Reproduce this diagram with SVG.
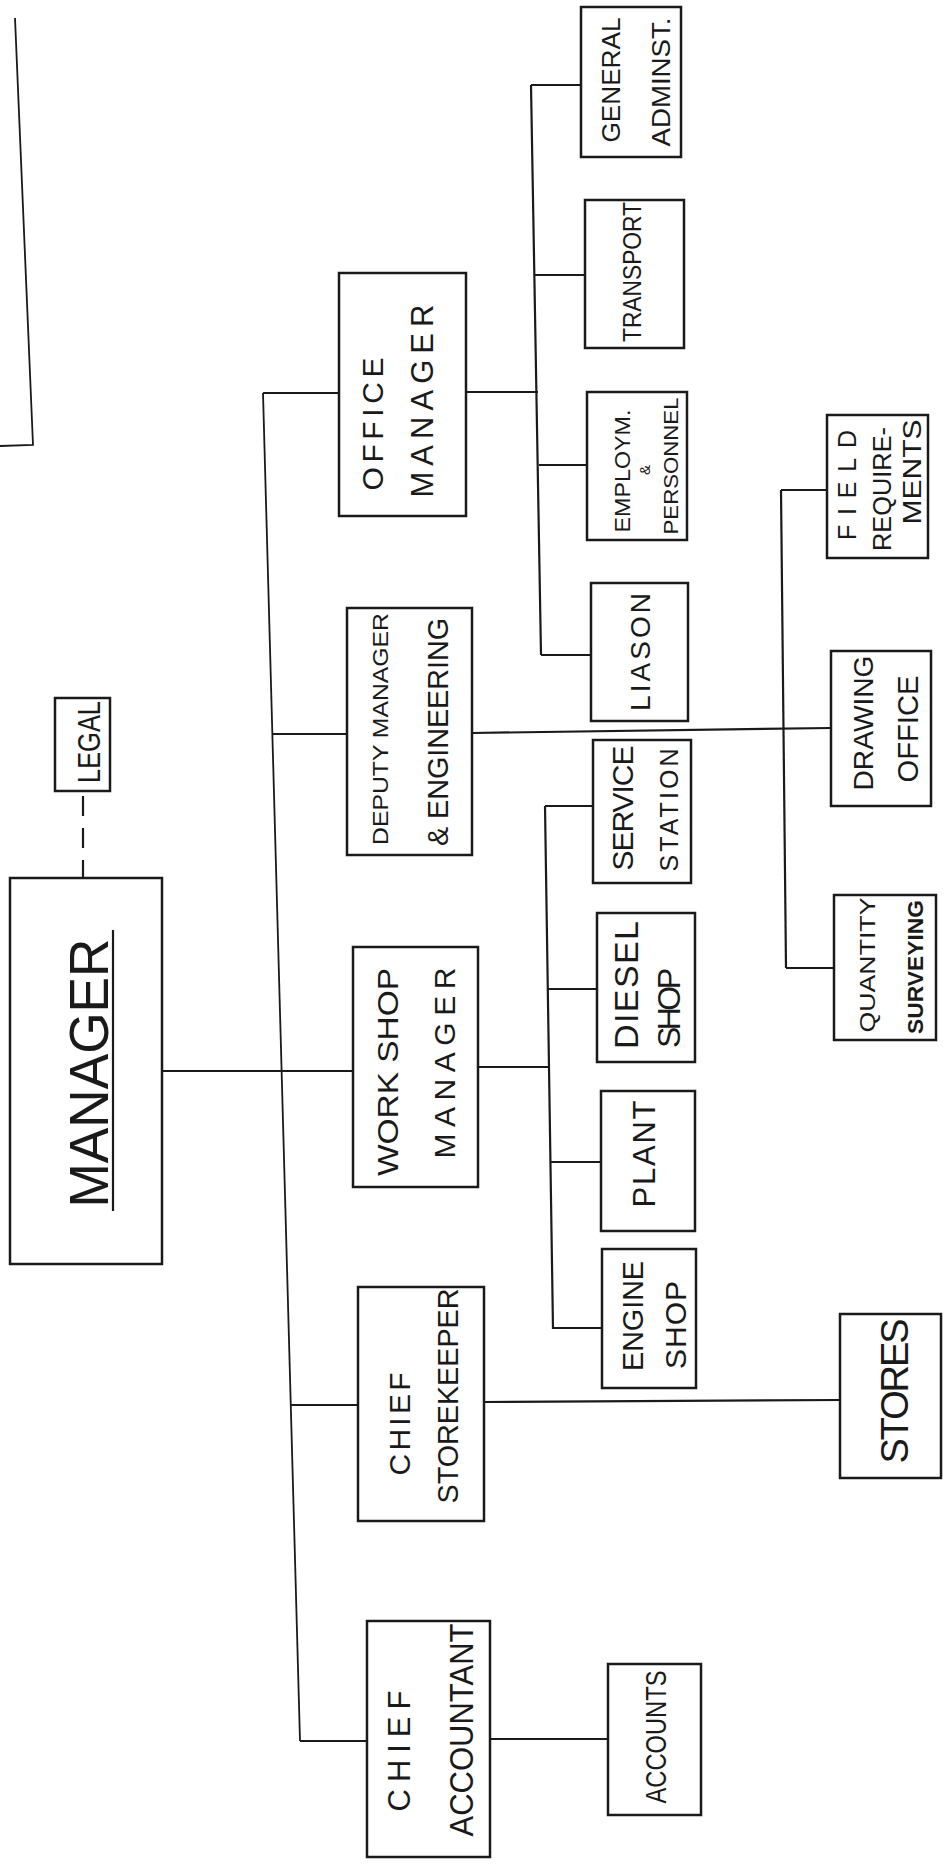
<svg xmlns="http://www.w3.org/2000/svg" width="946" height="1872" viewBox="0 0 946 1872">
<style>
.bg{fill:#ffffff}
.box{fill:#ffffff;stroke:#1a1a1a;stroke-width:2.5}
.ln{fill:none;stroke:#1a1a1a;stroke-width:2.2}
.thin{fill:none;stroke:#1a1a1a;stroke-width:1.8}
.dash{fill:none;stroke:#1a1a1a;stroke-width:2.2;stroke-dasharray:20 12}
text{font-family:"Liberation Sans","DejaVu Sans",Arial,sans-serif;fill:#1a1a1a;text-anchor:middle}
</style>
<rect class="bg" x="0" y="0" width="946" height="1872"/>
<path class="thin" d="M15,18 L33,445 L0,446"/>
<g id="connectors">
<path class="thin" d="M263,393 L300,1741"/>
<path class="ln" d="M263,393 L339,393"/>
<path class="ln" d="M272,734 L347,734"/>
<path class="ln" d="M162,1071 L353,1071"/>
<path class="ln" d="M290,1405 L358,1405"/>
<path class="ln" d="M300,1741 L367,1741"/>
<path class="dash" d="M83,796 L83,878"/>
<path class="ln" d="M466,392 L538,392"/>
<path class="ln" d="M531,85 L541,655"/>
<path class="ln" d="M531,85 L581,85"/>
<path class="ln" d="M534,275 L585,275"/>
<path class="ln" d="M539,465 L587,465"/>
<path class="ln" d="M541,655 L591,655"/>
<path class="ln" d="M472,733 L831,728"/>
<path class="ln" d="M781,490 L786,968"/>
<path class="ln" d="M781,490 L827,490"/>
<path class="ln" d="M786,968 L834,968"/>
<path class="ln" d="M478,1067 L548,1067"/>
<path class="ln" d="M545,806 L553,1329"/>
<path class="ln" d="M545,806 L593,806"/>
<path class="ln" d="M548,989 L597,989"/>
<path class="ln" d="M550,1162 L601,1162"/>
<path class="ln" d="M553,1328 L602,1328"/>
<path class="ln" d="M484,1402 L840,1400"/>
<path class="ln" d="M490,1739 L608,1739"/>
</g>
<g id="manager">
<rect class="box" x="10" y="878" width="152" height="386"/>
<text transform="translate(108,1073) rotate(-90)" font-size="56" textLength="269" lengthAdjust="spacingAndGlyphs">MANAGER</text>
<path class="ln" d="M113,1211 L113,930"/>
</g>
<g id="legal">
<rect class="box" x="55" y="698" width="55" height="93"/>
<text transform="translate(100,742) rotate(-90)" font-size="31" textLength="82" lengthAdjust="spacingAndGlyphs">LEGAL</text>
</g>
<g id="office-manager">
<rect class="box" x="339" y="273" width="127" height="243"/>
<text transform="translate(383,424) rotate(-90)" font-size="30" textLength="133" lengthAdjust="spacing">OFFICE</text>
<text transform="translate(433,401) rotate(-90)" font-size="31" textLength="193" lengthAdjust="spacing">MANAGER</text>
</g>
<g id="deputy-manager">
<rect class="box" x="347" y="608" width="125" height="247"/>
<text transform="translate(388,729) rotate(-90)" font-size="22" textLength="232" lengthAdjust="spacingAndGlyphs">DEPUTY MANAGER</text>
<text transform="translate(448,732) rotate(-90)" font-size="29" textLength="228" lengthAdjust="spacingAndGlyphs">&amp; ENGINEERING</text>
</g>
<g id="workshop-manager">
<rect class="box" x="353" y="947" width="125" height="240"/>
<text transform="translate(398,1072) rotate(-90)" font-size="29" textLength="208" lengthAdjust="spacingAndGlyphs">WORK SHOP</text>
<text transform="translate(455,1063) rotate(-90)" font-size="30" textLength="191" lengthAdjust="spacing">MANAGER</text>
</g>
<g id="chief-storekeeper">
<rect class="box" x="358" y="1287" width="126" height="234"/>
<text transform="translate(410,1424) rotate(-90)" font-size="30" textLength="103" lengthAdjust="spacing">CHIEF</text>
<text transform="translate(458,1396) rotate(-90)" font-size="29" textLength="215" lengthAdjust="spacingAndGlyphs">STOREKEEPER</text>
</g>
<g id="chief-accountant">
<rect class="box" x="367" y="1621" width="123" height="236"/>
<text transform="translate(410,1751) rotate(-90)" font-size="31" textLength="121" lengthAdjust="spacing">CHIEF</text>
<text transform="translate(473,1730) rotate(-90)" font-size="33" textLength="213" lengthAdjust="spacingAndGlyphs">ACCOUNTANT</text>
</g>
<g id="general-admin">
<rect class="box" x="581" y="7" width="100" height="150"/>
<text transform="translate(620,80) rotate(-90)" font-size="25" textLength="125" lengthAdjust="spacingAndGlyphs">GENERAL</text>
<text transform="translate(670,82) rotate(-90)" font-size="25" textLength="129" lengthAdjust="spacingAndGlyphs">ADMINST.</text>
</g>
<g id="transport">
<rect class="box" x="585" y="200" width="99" height="148"/>
<text transform="translate(641,272) rotate(-90)" font-size="25" textLength="140" lengthAdjust="spacingAndGlyphs">TRANSPORT</text>
</g>
<g id="employment">
<rect class="box" x="587" y="392" width="100" height="148"/>
<text transform="translate(630,471) rotate(-90)" font-size="22" textLength="123" lengthAdjust="spacingAndGlyphs">EMPLOYM.</text>
<text transform="translate(650,470) rotate(-90)" font-size="15">&amp;</text>
<text transform="translate(678,466) rotate(-90)" font-size="20" textLength="137" lengthAdjust="spacingAndGlyphs">PERSONNEL</text>
</g>
<g id="liason">
<rect class="box" x="591" y="583" width="97" height="138"/>
<text transform="translate(650,652) rotate(-90)" font-size="28" textLength="118" lengthAdjust="spacing">LIASON</text>
</g>
<g id="service-station">
<rect class="box" x="593" y="740" width="98" height="143"/>
<text transform="translate(633,808) rotate(-90)" font-size="30" textLength="125" lengthAdjust="spacing">SERVICE</text>
<text transform="translate(678,810) rotate(-90)" font-size="25" textLength="123" lengthAdjust="spacing">STATION</text>
</g>
<g id="diesel-shop">
<rect class="box" x="597" y="913" width="98" height="149"/>
<text transform="translate(638,985) rotate(-90)" font-size="34" textLength="128" lengthAdjust="spacing">DIESEL</text>
<text transform="translate(680,1008) rotate(-90)" font-size="32" textLength="80" lengthAdjust="spacing">SHOP</text>
</g>
<g id="plant">
<rect class="box" x="601" y="1091" width="94" height="140"/>
<text transform="translate(655,1154) rotate(-90)" font-size="31" textLength="107" lengthAdjust="spacing">PLANT</text>
</g>
<g id="engine-shop">
<rect class="box" x="602" y="1249" width="94" height="139"/>
<text transform="translate(643,1316) rotate(-90)" font-size="30" textLength="110" lengthAdjust="spacingAndGlyphs">ENGINE</text>
<text transform="translate(686,1325) rotate(-90)" font-size="30" textLength="88" lengthAdjust="spacing">SHOP</text>
</g>
<g id="field-requirements">
<rect class="box" x="827" y="415" width="101" height="143"/>
<text transform="translate(856,485) rotate(-90)" font-size="25" textLength="110" lengthAdjust="spacing">FIELD</text>
<text transform="translate(891,489) rotate(-90)" font-size="25" textLength="124" lengthAdjust="spacingAndGlyphs">REQUIRE-</text>
<text transform="translate(921,472) rotate(-90)" font-size="25" textLength="105" lengthAdjust="spacingAndGlyphs">MENTS</text>
</g>
<g id="drawing-office">
<rect class="box" x="831" y="651" width="100" height="155"/>
<text transform="translate(873,723) rotate(-90)" font-size="28" textLength="135" lengthAdjust="spacingAndGlyphs">DRAWING</text>
<text transform="translate(918,729) rotate(-90)" font-size="30" textLength="107" lengthAdjust="spacingAndGlyphs">OFFICE</text>
</g>
<g id="quantity-surveying">
<rect class="box" x="834" y="895" width="102" height="145"/>
<text transform="translate(875,965) rotate(-90)" font-size="22" textLength="135" lengthAdjust="spacingAndGlyphs">QUANTITY</text>
<text transform="translate(923,967) rotate(-90)" font-size="22" font-weight="bold" textLength="134" lengthAdjust="spacingAndGlyphs">SURVEYING</text>
</g>
<g id="stores">
<rect class="box" x="840" y="1314" width="101" height="164"/>
<text transform="translate(908,1391) rotate(-90)" font-size="38" textLength="145" lengthAdjust="spacing">STORES</text>
</g>
<g id="accounts">
<rect class="box" x="608" y="1664" width="93" height="151"/>
<text transform="translate(666,1737) rotate(-90)" font-size="30" textLength="133" lengthAdjust="spacingAndGlyphs">ACCOUNTS</text>
</g>
</svg>
